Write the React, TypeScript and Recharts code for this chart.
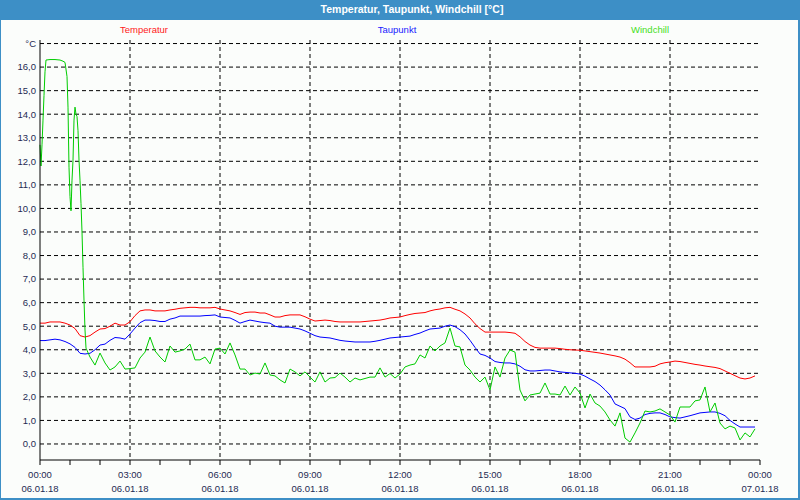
import { LineChart, Line, XAxis, YAxis, CartesianGrid } from "recharts";

// 10-minute samples, 06.01.18 00:00 .. 23:50
const temperatur = [
  5.13, 5.13, 5.18, 5.18, 5.18, 5.13, 5.05, 4.9, 4.6, 4.54, 4.6, 4.75,
  4.88, 4.9, 5.0, 5.13, 5.05, 5.05, 5.19, 5.45, 5.65, 5.69, 5.69, 5.65,
  5.65, 5.65, 5.69, 5.72, 5.76, 5.78, 5.8, 5.8, 5.78, 5.78, 5.78, 5.8,
  5.73, 5.69, 5.65, 5.58, 5.5, 5.58, 5.6, 5.6, 5.56, 5.56, 5.48, 5.39,
  5.39, 5.45, 5.48, 5.48, 5.48, 5.4, 5.3, 5.22, 5.24, 5.26, 5.24, 5.2,
  5.18, 5.18, 5.18, 5.18, 5.18, 5.2, 5.22, 5.24, 5.26, 5.3, 5.35, 5.37,
  5.39, 5.45, 5.5, 5.54, 5.56, 5.58, 5.65, 5.7, 5.73, 5.78, 5.8, 5.72,
  5.65, 5.52, 5.35, 5.1, 4.9, 4.75, 4.75, 4.75, 4.75, 4.75, 4.73, 4.7,
  4.55, 4.35, 4.2, 4.1, 4.07, 4.07, 4.07, 4.07, 4.05, 4.02, 4.0, 3.99,
  3.98, 3.95, 3.92, 3.89, 3.86, 3.82, 3.78, 3.74, 3.69, 3.6, 3.45, 3.27,
  3.27, 3.27, 3.27, 3.3, 3.4, 3.45, 3.48, 3.52, 3.5, 3.46, 3.42, 3.38,
  3.35, 3.31, 3.28, 3.25, 3.2, 3.1, 3.0, 2.9, 2.8, 2.76, 2.8, 2.89,
];

const taupunkt = [
  4.39, 4.39, 4.42, 4.45, 4.42, 4.35, 4.25, 4.1, 3.85, 3.82, 3.85, 4.0,
  4.2, 4.24, 4.4, 4.52, 4.5, 4.45, 4.67, 4.92, 5.15, 5.26, 5.26, 5.24,
  5.2, 5.2, 5.3, 5.35, 5.43, 5.43, 5.43, 5.43, 5.43, 5.45, 5.46, 5.48,
  5.39, 5.37, 5.35, 5.25, 5.13, 5.2, 5.26, 5.22, 5.18, 5.15, 5.13, 5.0,
  4.96, 4.96, 4.96, 4.92, 4.88, 4.8, 4.7, 4.6, 4.54, 4.52, 4.5, 4.45,
  4.4, 4.37, 4.35, 4.33, 4.33, 4.33, 4.33, 4.36, 4.4, 4.45, 4.5, 4.52,
  4.54, 4.56, 4.58, 4.65, 4.71, 4.8, 4.88, 4.9, 4.92, 5.0, 5.05, 4.98,
  4.85, 4.67, 4.4, 4.1, 3.82, 3.76, 3.65, 3.5, 3.46, 3.44, 3.44, 3.4,
  3.3, 3.15, 3.1, 3.1, 3.12, 3.14, 3.14, 3.1, 3.06, 3.04, 3.02, 3.0,
  2.97, 2.88, 2.76, 2.65, 2.5, 2.3, 2.08, 1.7, 1.6, 1.5, 1.15, 1.04,
  1.1, 1.25, 1.3, 1.32, 1.32, 1.25, 1.15, 1.12, 1.1, 1.15, 1.2, 1.26,
  1.32, 1.34, 1.36, 1.36, 1.3, 1.2, 1.0, 0.85, 0.72, 0.72, 0.72, 0.72,
];

// windchill: denser samples in the first two hours (minutes), then 10-minute steps from 02:00
const windchillEarlyMin = [
  0, 2, 4, 6, 8, 10, 12, 20, 30, 40, 46, 50, 54, 56, 57, 58, 60, 62, 64, 66,
  68, 70, 72, 74, 76, 78, 80, 82, 84, 86, 88, 90, 92, 100, 110,
];
const windchillEarly = [
  12.7, 11.8, 12.7, 13.75, 14.8, 15.8, 16.3, 16.32, 16.32, 16.3, 16.25, 16.2, 15.6, 14.3, 13.0, 11.75, 10.5, 9.9, 11.2, 12.05,
  13.75, 14.3, 14.0, 13.9, 13.3, 12.05, 11.2, 10.2, 9.0, 7.5, 6.1, 4.84, 4.07, 3.69, 3.35,
];
const windchillLate = [
  3.86, 3.44, 3.14, 3.27, 3.52, 3.18, 3.2, 3.23, 3.65, 3.9, 4.54, 3.95,
  3.69, 3.48, 4.16, 3.9, 3.95, 4.03, 4.24, 3.57, 3.57, 3.69, 3.4, 4.03,
  4.07, 3.82, 4.29, 3.78, 3.18, 3.18, 2.93, 3.01, 2.97, 3.44, 2.93, 2.89,
  2.72, 2.59, 3.18, 3.06, 2.89, 3.06, 2.84, 2.63, 3.06, 2.63, 2.8, 2.82,
  3.01, 2.84, 2.63, 2.8, 2.72, 2.78, 2.84, 2.84, 3.23, 2.84, 2.99, 2.8,
  2.97, 3.27, 3.35, 3.4, 3.78, 3.65, 4.16, 3.95, 4.16, 4.29, 4.92, 4.16,
  4.12, 3.35, 3.14, 2.84, 2.63, 2.84, 2.29, 3.27, 2.84, 3.65, 3.99, 3.9,
  2.29, 1.83, 2.08, 2.12, 2.16, 2.59, 2.12, 2.12, 2.08, 2.46, 2.08, 2.42,
  2.16, 1.53, 2.12, 1.74, 1.61, 1.36, 1.02, 0.76, 1.32, 0.25, 0.08, 0.47,
  0.89, 1.4, 1.36, 1.4, 1.49, 1.36, 1.23, 0.93, 1.57, 1.57, 1.57, 1.83,
  1.87, 2.42, 1.36, 1.74, 0.89, 0.64, 0.76, 0.68, 0.17, 0.47, 0.3, 0.64,
];

const majorTicks = [0, 180, 360, 540, 720, 900, 1080, 1260, 1440];
const timeLabels = ["00:00", "03:00", "06:00", "09:00", "12:00", "15:00", "18:00", "21:00", "00:00"];
const dateLabels = ["06.01.18", "06.01.18", "06.01.18", "06.01.18", "06.01.18", "06.01.18", "06.01.18", "06.01.18", "07.01.18"];
const hourTicks = Array.from({ length: 25 }, (_, i) => i * 60);

const yTicks = [0, 1, 2, 3, 4, 5, 6, 7, 8, 9, 10, 11, 12, 13, 14, 15, 16, 17];
const yTickLabels = ["0,0", "1,0", "2,0", "3,0", "4,0", "5,0", "6,0", "7,0", "8,0", "9,0", "10,0", "11,0", "12,0", "13,0", "14,0", "15,0", "16,0", "°C"];

const tempData = temperatur.map((v, i) => ({ t: i * 10, v }));
const dewData = taupunkt.map((v, i) => ({ t: i * 10, v }));
const windData = [
  ...windchillEarly.map((v, i) => ({ t: windchillEarlyMin[i], v })),
  ...windchillLate.map((v, i) => ({ t: 120 + i * 10, v })),
];

const FONT = '"Liberation Sans", Arial, sans-serif';
const LABEL = "#1e2a52";

const series = [
  { name: "Temperatur", data: tempData, color: "#ff0000", legend: "#ff1a1a", cx: 144 },
  { name: "Taupunkt", data: dewData, color: "#0000ff", legend: "#1a1aff", cx: 397 },
  { name: "Windchill", data: windData, color: "#00cc00", legend: "#44dd22", cx: 650 },
];

function TimeTick({ x, y, payload }: any) {
  const idx = majorTicks.indexOf(payload.value);
  if (idx < 0) return <g />;
  return (
    <g>
      <text x={x} y={y} dy={10.5} textAnchor="middle" fill={LABEL} fontSize={9.5} fontFamily={FONT}>
        {timeLabels[idx]}
      </text>
      <text x={x} y={y} dy={25} textAnchor="middle" fill={LABEL} fontSize={9.5} fontFamily={FONT}>
        {dateLabels[idx]}
      </text>
    </g>
  );
}

export default function App() {
  return (
    <div style={{ position: "absolute", left: 0, top: 0, width: 800, height: 500, background: "#3d8fc6", fontFamily: FONT }}>
      <div style={{ position: "absolute", left: 1, top: 20, width: 797, height: 478, background: "#fbfdfb" }} />
      <div
        style={{
          position: "absolute", left: 12, top: 0, width: 800, height: 20, lineHeight: "19px",
          textAlign: "center", color: "#fff", fontWeight: "bold", fontSize: 10.5,
        }}
      >
        Temperatur, Taupunkt, Windchill [°C]
      </div>
      {series.map((s) => (
        <div
          key={s.name}
          style={{ position: "absolute", left: s.cx, top: 24, transform: "translateX(-50%)", color: s.legend, fontSize: 9.5, whiteSpace: "nowrap" }}
        >
          {s.name}
        </div>
      ))}
      <div style={{ position: "absolute", left: 0, top: 0 }}>
        <LineChart width={800} height={500} margin={{ top: 40, right: 40, bottom: 0, left: 0 }}>
          <CartesianGrid
            stroke="#000"
            strokeDasharray="4 3"
            verticalValues={[180, 360, 540, 720, 900, 1080, 1260]}
            horizontalValues={yTicks}
          />
          <XAxis
            dataKey="t"
            type="number"
            domain={[0, 1440]}
            ticks={hourTicks}
            interval={0}
            height={40}
            stroke="#000"
            tickSize={5}
            tick={<TimeTick />}
          />
          <XAxis xAxisId="top" orientation="top" type="number" domain={[0, 1440]} height={0} tick={false} tickLine={false} stroke="#000" />
          <YAxis
            type="number"
            domain={[-0.68, 17.15]}
            ticks={yTicks}
            interval={0}
            width={40}
            stroke="#000"
            tickLine={false}
            tickSize={0}
            tickMargin={4}
            tick={{ fill: LABEL, fontSize: 9.5, fontFamily: FONT }}
            tickFormatter={(v: number) => yTickLabels[yTicks.indexOf(v)] ?? ""}
          />
          <YAxis yAxisId="right" orientation="right" type="number" domain={[0, 1]} width={0} tick={false} tickLine={false} stroke="#000" />
          {series.map((s) => (
            <Line
              key={s.name}
              data={s.data}
              dataKey="v"
              name={s.name}
              type="linear"
              stroke={s.color}
              strokeWidth={1}
              dot={false}
              isAnimationActive={false}
            />
          ))}
        </LineChart>
      </div>
    </div>
  );
}
